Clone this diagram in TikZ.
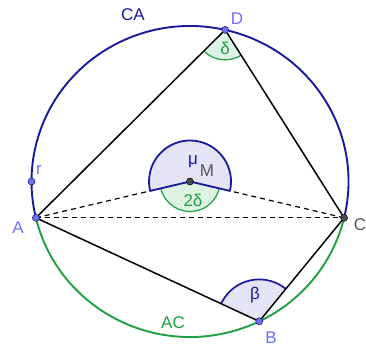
\documentclass[tikz,border=0pt]{standalone}
\usepackage{fontspec}
\setmainfont{Liberation Sans}
\usetikzlibrary{calc}
\definecolor{cblue}{RGB}{25,25,160}
\definecolor{cgreen}{RGB}{30,160,65}
\definecolor{ptblue}{RGB}{110,110,255}
\definecolor{cgray}{RGB}{85,85,85}
\definecolor{lav}{RGB}{228,228,246}
\definecolor{lgreen}{RGB}{222,243,228}
\begin{document}
\begin{tikzpicture}[x=1pt,y=1pt,
  seg/.style={line width=1.5pt, black},
  dashseg/.style={line width=1.2pt, black, dash pattern=on 5pt off 4pt},
  ptfree/.style={circle, fill=ptblue, draw=cblue!60!black, line width=0.5pt, inner sep=0pt, minimum size=7pt},
  ptdep/.style={circle, fill=black!70, draw=black, line width=0.5pt, inner sep=0pt, minimum size=7pt},
  lbl/.style={font=\fontsize{17}{20}\selectfont, inner sep=0pt},
]
\useasboundingbox (0,0) rectangle (366,349);
\coordinate (M) at (190,167.5);
\coordinate (A) at ($(M)+(193.5:158.5 and 155.5)$);
\coordinate (C) at ($(M)+(-13.5:158.5 and 155.5)$);
\coordinate (D) at ($(M)+(77.2:158.5 and 155.5)$);
\coordinate (B) at ($(M)+(-64.1:158.5 and 155.5)$);
\coordinate (R) at ($(M)+(180:158.5 and 155.5)$);

% angle at D (delta)
\fill[lgreen] let \p1=($(A)-(D)$), \p2=($(C)-(D)$), \n1={atan2(\y1,\x1)}, \n2={atan2(\y2,\x2)} in
  (D) -- ++(\n1:30) arc[start angle=\n1, end angle=\n2, radius=30] -- cycle;
\draw[cgreen, line width=1.2pt] let \p1=($(A)-(D)$), \p2=($(C)-(D)$), \n1={atan2(\y1,\x1)}, \n2={atan2(\y2,\x2)} in
  ($(D)+(\n1:30)$) arc[start angle=\n1, end angle=\n2, radius=30];

% angle at B (beta)
\fill[lav] let \p1=($(C)-(B)$), \p2=($(A)-(B)$), \n1={atan2(\y1,\x1)}, \n2={atan2(\y2,\x2)} in
  (B) -- ++(\n1:42) arc[start angle=\n1, end angle=\n2, radius=42] -- cycle;
\draw[cblue, line width=1.7pt] let \p1=($(C)-(B)$), \p2=($(A)-(B)$), \n1={atan2(\y1,\x1)}, \n2={atan2(\y2,\x2)} in
  ($(B)+(\n1:42)$) arc[start angle=\n1, end angle=\n2, radius=42];

% angle at M (2 delta), green
\fill[lgreen] let \p1=($(A)-(M)$), \p2=($(C)-(M)$), \n1={atan2(\y1,\x1)}, \n2={atan2(\y2,\x2)} in
  (M) -- ++(\n1:30) arc[start angle=\n1, end angle=\n2, radius=30] -- cycle;
\draw[cgreen, line width=1.2pt] let \p1=($(A)-(M)$), \p2=($(C)-(M)$), \n1={atan2(\y1,\x1)}, \n2={atan2(\y2,\x2)} in
  ($(M)+(\n1:30)$) arc[start angle=\n1, end angle=\n2, radius=30];

% dashed segments
\draw[dashseg] (A) -- (C);
\draw[dashseg] (A) -- (M);
\draw[dashseg] (M) -- (C);

% angle at M (mu), blue reflex
\draw[cblue, fill=lav, line width=1.8pt, line join=round] let \p1=($(C)-(M)$), \p2=($(A)-(M)$), \n1={atan2(\y1,\x1)}, \n2={atan2(\y2,\x2)} in
  (M) -- ++(\n1:41) arc[start angle=\n1, end angle=\n2+360, radius=41] -- cycle;

% quadrilateral
\draw[seg] (A) -- (D);
\draw[seg] (D) -- (C);
\draw[seg] (C) -- (B);
\draw[seg] (B) -- (A);

% circle arcs
\draw[cblue, line width=1.9pt] (C) arc[start angle=-13.5, end angle=193.5, x radius=158.5, y radius=155.5];
\draw[cgreen, line width=1.9pt] (A) arc[start angle=193.5, end angle=346.5, x radius=158.5, y radius=155.5];

% points
\node[ptfree] (pA) at (A) {};
\node[ptfree] (pB) at (B) {};
\node[ptfree] (pD) at (D) {};
\node[ptfree] (pR) at (R) {};
\node[ptdep] (pC) at (C) {};
\node[ptdep] (pM) at (M) {};

% labels
\node[lbl, text=cblue] (lCA) at (133,334) {CA};
\node[lbl, text=cgreen] (lAC) at (173,26) {AC};
\node[lbl, text=ptblue] (lD) at (237,330) {D};
\node[lbl, text=ptblue] (lr) at (39,179) {r};
\node[lbl, text=ptblue] (lA) at (18,121) {A};
\node[lbl, text=ptblue] (lB) at (271,11) {B};
\node[lbl, text=cgray] (lC) at (360,124) {C};
\node[lbl, text=cgray] (lM) at (207,178) {M};
\node[lbl, text=cblue] (lmu) at (193,187) {μ};
\node[lbl, text=cgreen] (l2d) at (193,149) {2δ};
\node[lbl, text=cgreen] (ld) at (225,301) {δ};
\node[lbl, text=cblue] (lb) at (255,54) {β};
\end{tikzpicture}
\end{document}
